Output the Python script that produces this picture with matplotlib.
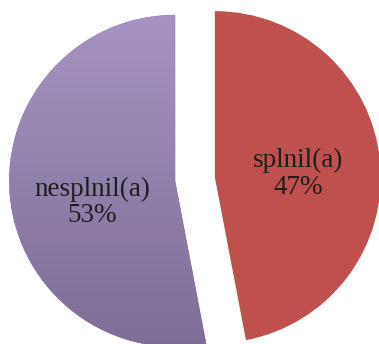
import numpy as np
import matplotlib.pyplot as plt
from matplotlib.colors import LinearSegmentedColormap

labels = ["splnil(a)", "nesplnil(a)"]
shares = [47, 53]
colors = ["#C0504D", "#8F7EAA"]

plt.rcParams["font.family"] = ["Liberation Serif", "DejaVu Serif"]

fig = plt.figure(figsize=(3.79, 3.44), dpi=100)
ax = fig.add_axes([0, 0, 1, 1])

wedges, _ = ax.pie(shares, colors=colors, startangle=90, counterclock=False,
                   explode=[0.12, 0.12], radius=1.0)

# purple slice has a vertical gradient (light top, darker bottom)
purple = wedges[1]
cmap = LinearSegmentedColormap.from_list("pg", ["#7E6D95", "#A693C3"])
grad = np.linspace(0, 1, 256).reshape(-1, 1)
cx, cy = purple.center
img = ax.imshow(grad, cmap=cmap, origin="lower", aspect="auto",
                extent=[cx - 1, cx + 1, cy - 1, cy + 1], zorder=purple.get_zorder() + 0.1)
img.set_clip_path(purple)

ax.set_xlim(-195 / 166, 184 / 166)
ax.set_ylim(-165 / 166, 179 / 166)
ax.set_aspect("auto")
ax.axis("off")

# labels inside the slices
rx, ry = wedges[0].center
ax.text(rx + 0.5, ry + 0.02, f"{labels[0]}\n{shares[0]}%", ha="center", va="center",
        fontsize=19.5, color="#1e1e1e", linespacing=1.1, zorder=5)
ax.text(cx - 0.5, cy - 0.13, f"{labels[1]}\n{shares[1]}%", ha="center", va="center",
        fontsize=19.5, color="#1e1e1e", linespacing=1.1, zorder=5)

fig.savefig("out.png", dpi=100)
